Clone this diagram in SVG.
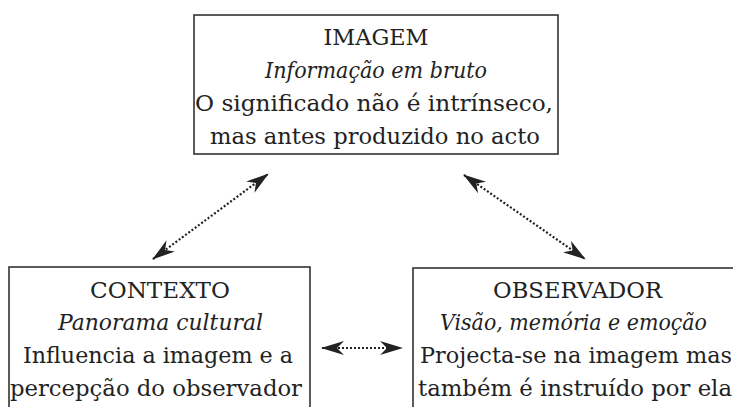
<svg xmlns="http://www.w3.org/2000/svg" width="733" height="407" viewBox="0 0 733 407">
<style>
.box{fill:#fff;stroke:#333;stroke-width:1.6}
.t{font-family:"DejaVu Serif","Liberation Serif",serif;font-size:21.5px;fill:#222;text-anchor:middle}
.i{font-style:italic}
.conn{stroke:#222;stroke-width:2.2;stroke-dasharray:2 2;fill:none}
</style>
<defs>
<marker id="ah" viewBox="-24 -8 26 16" refX="0" refY="0" markerWidth="26" markerHeight="16" markerUnits="userSpaceOnUse" orient="auto-start-reverse">
<path d="M1,0 L-22,-7 L-15,0 L-22,7 Z" fill="#222"/>
</marker>
</defs>
<rect width="733" height="407" fill="#fff"/>
<g id="connectors">
<line class="conn" x1="153" y1="259" x2="268" y2="174" marker-start="url(#ah)" marker-end="url(#ah)"/>
<line class="conn" x1="464" y1="175" x2="585" y2="259" marker-start="url(#ah)" marker-end="url(#ah)"/>
<line class="conn" x1="322" y1="348" x2="402" y2="348" marker-start="url(#ah)" marker-end="url(#ah)"/>
</g>
<g id="imagem">
<rect class="box" x="194" y="15" width="364" height="139"/>
<text class="t" x="376" y="45" textLength="105" lengthAdjust="spacingAndGlyphs">IMAGEM</text>
<text class="t i" x="376" y="78" textLength="222" lengthAdjust="spacingAndGlyphs">Informação em bruto</text>
<text class="t" x="374" y="111" textLength="358" lengthAdjust="spacingAndGlyphs">O significado não é intrínseco,</text>
<text class="t" x="375" y="144" textLength="330" lengthAdjust="spacingAndGlyphs">mas antes produzido no acto</text>
</g>
<g id="contexto">
<rect class="box" x="9" y="267" width="301" height="160"/>
<text class="t" x="160" y="298" textLength="140" lengthAdjust="spacingAndGlyphs">CONTEXTO</text>
<text class="t i" x="160.5" y="330" textLength="205" lengthAdjust="spacingAndGlyphs">Panorama cultural</text>
<text class="t" x="158" y="363" textLength="270" lengthAdjust="spacingAndGlyphs">Influencia a imagem e a</text>
<text class="t" x="156" y="396" textLength="292" lengthAdjust="spacingAndGlyphs">percepção do observador</text>
</g>
<g id="observador">
<rect class="box" x="413" y="268" width="340" height="160"/>
<text class="t" x="577.5" y="298" textLength="169" lengthAdjust="spacingAndGlyphs">OBSERVADOR</text>
<text class="t i" x="573.5" y="330" textLength="267" lengthAdjust="spacingAndGlyphs">Visão, memória e emoção</text>
<text class="t" x="576" y="363" textLength="312" lengthAdjust="spacingAndGlyphs">Projecta-se na imagem mas</text>
<text class="t" x="575" y="396" textLength="314" lengthAdjust="spacingAndGlyphs">também é instruído por ela</text>
</g>
</svg>
